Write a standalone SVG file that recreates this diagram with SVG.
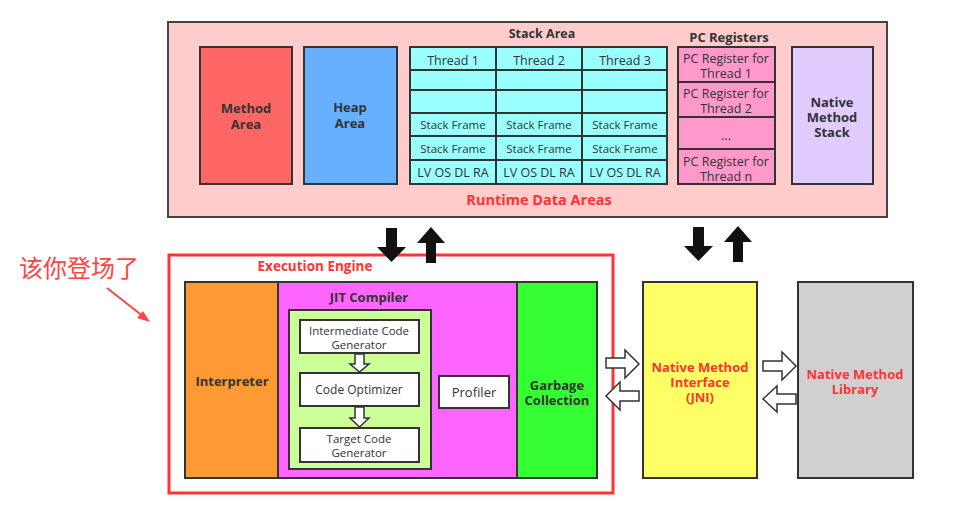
<svg xmlns="http://www.w3.org/2000/svg" width="979" height="520" viewBox="0 0 979 520">
<style>
text{font-family:"Open Sans","Noto Sans","Liberation Sans",sans-serif;fill:#333;text-anchor:middle}
.b{font-weight:bold;font-size:13px}
.r{fill:#ff3333;font-weight:bold;font-size:13px}
.box{stroke:#333;stroke-width:2}
.cell{fill:#99ffff;stroke:#333;stroke-width:2}
.pc{fill:#ff99cc;stroke:#333;stroke-width:2}
.t{font-size:12.5px}
.s{font-size:11.5px}
.w{fill:#fff;stroke:#333;stroke-width:2}
.ha{fill:#fff;stroke:#333;stroke-width:1.5}
</style>
<rect width="979" height="520" fill="#fff"/>
<g id="runtime">
<rect x="168" y="22" width="719" height="195" fill="#ffcccc" stroke="#444" stroke-width="2"/>
<text class="r" x="539" y="205" style="font-size:14.5px">Runtime Data Areas</text>
</g>
<g id="method-area">
<rect class="box" x="200" y="47" width="92" height="137" fill="#ff6666"/>
<text class="b" x="246" y="113">Method<tspan x="246" dy="16">Area</tspan></text>
</g>
<g id="heap-area">
<rect class="box" x="304" y="47" width="93" height="137" fill="#66b0ff"/>
<text class="b" x="350" y="112">Heap<tspan x="350" dy="16">Area</tspan></text>
</g>
<g id="stack-area">
<text class="b" x="542" y="38" style="font-size:12.5px">Stack Area</text>
<rect class="cell" x="410" y="47" width="86" height="23"/><rect class="cell" x="496" y="47" width="86" height="23"/><rect class="cell" x="582" y="47" width="85" height="23"/>
<rect class="cell" x="410" y="70" width="86" height="20"/><rect class="cell" x="496" y="70" width="86" height="20"/><rect class="cell" x="582" y="70" width="85" height="20"/>
<rect class="cell" x="410" y="90" width="86" height="23"/><rect class="cell" x="496" y="90" width="86" height="23"/><rect class="cell" x="582" y="90" width="85" height="23"/>
<rect class="cell" x="410" y="113" width="86" height="23"/><rect class="cell" x="496" y="113" width="86" height="23"/><rect class="cell" x="582" y="113" width="85" height="23"/>
<rect class="cell" x="410" y="136" width="86" height="24"/><rect class="cell" x="496" y="136" width="86" height="24"/><rect class="cell" x="582" y="136" width="85" height="24"/>
<rect class="cell" x="410" y="160" width="86" height="24"/><rect class="cell" x="496" y="160" width="86" height="24"/><rect class="cell" x="582" y="160" width="85" height="24"/>
<text class="t" x="453" y="65">Thread 1</text><text class="t" x="539" y="65">Thread 2</text><text class="t" x="625" y="65">Thread 3</text>
<text class="s" x="453" y="129">Stack Frame</text><text class="s" x="539" y="129">Stack Frame</text><text class="s" x="625" y="129">Stack Frame</text>
<text class="s" x="453" y="153">Stack Frame</text><text class="s" x="539" y="153">Stack Frame</text><text class="s" x="625" y="153">Stack Frame</text>
<text class="t" x="453" y="177">LV OS DL RA</text><text class="t" x="539" y="177">LV OS DL RA</text><text class="t" x="625" y="177">LV OS DL RA</text>
</g>
<g id="pc-registers">
<text class="b" x="729" y="42">PC Registers</text>
<rect class="pc" x="678" y="47" width="97" height="35"/>
<rect class="pc" x="678" y="82" width="97" height="35"/>
<rect class="pc" x="678" y="117" width="97" height="32"/>
<rect class="pc" x="678" y="149" width="97" height="35"/>
<text class="t" x="726" y="63">PC Register for<tspan x="726" dy="15">Thread 1</tspan></text>
<text class="t" x="726" y="98">PC Register for<tspan x="726" dy="15">Thread 2</tspan></text>
<text class="t" x="726" y="140">...</text>
<text class="t" x="726" y="166">PC Register for<tspan x="726" dy="15">Thread n</tspan></text>
</g>
<g id="native-method-stack">
<rect class="box" x="792" y="47" width="81" height="137" fill="#e0ccff"/>
<text class="b" x="832" y="107">Native<tspan x="832" dy="15">Method</tspan><tspan x="832" dy="15">Stack</tspan></text>
</g>
<g id="execution-engine">
<rect x="169" y="255" width="444" height="238" fill="none" stroke="#ff3333" stroke-width="3"/>
<text class="r" x="315" y="271" style="font-size:13.5px">Execution Engine</text>
</g>
<g id="interpreter">
<rect class="box" x="185" y="282" width="93" height="196" fill="#ff9933"/>
<text class="b" x="232" y="386">Interpreter</text>
</g>
<g id="jit-compiler">
<rect class="box" x="278" y="282" width="239" height="196" fill="#ff66ff"/>
<text class="b" x="369" y="302">JIT Compiler</text>
<rect class="box" x="289" y="310" width="142" height="159" fill="#ccff99"/>
</g>
<g id="intermediate-code-generator">
<rect class="w" x="300" y="320" width="119" height="33"/>
<text class="s" x="359" y="335">Intermediate Code<tspan x="359" dy="14">Generator</tspan></text>
</g>
<g id="code-optimizer">
<rect class="w" x="300" y="373" width="119" height="33"/>
<text class="s" x="359" y="394" style="font-size:12px">Code Optimizer</text>
</g>
<g id="target-code-generator">
<rect class="w" x="300" y="428" width="119" height="34"/>
<text class="s" x="359" y="443">Target Code<tspan x="359" dy="14">Generator</tspan></text>
</g>
<g id="profiler">
<rect class="w" x="439" y="376" width="70" height="32"/>
<text class="s" x="474" y="397" style="font-size:13px">Profiler</text>
</g>
<g id="garbage-collection">
<rect class="box" x="517" y="282" width="80" height="196" fill="#33ff33"/>
<text class="b" x="557" y="390">Garbage<tspan x="557" dy="15">Collection</tspan></text>
</g>
<g id="jni">
<rect class="box" x="643" y="282" width="114" height="196" fill="#ffff66"/>
<text class="r" x="700" y="372">Native Method<tspan x="700" dy="15">Interface</tspan><tspan x="700" dy="15">(JNI)</tspan></text>
</g>
<g id="native-method-library">
<rect class="box" x="798" y="282" width="115" height="196" fill="#d0d0d0"/>
<text class="r" x="855" y="379">Native Method<tspan x="855" dy="15">Library</tspan></text>
</g>
<g id="connectors">
<polygon points="386,228 397,228 397,247 406,247 391.5,262 377,247 386,247" fill="#111"/>
<polygon points="426,263 436,263 436,243 445,243 431,227 417,243 426,243" fill="#111"/>
<polygon points="693,227 704,227 704,246 713,246 698.5,261 684,246 693,246" fill="#111"/>
<polygon points="733,262 743,262 743,242 752,242 738,226 724,242 733,242" fill="#111"/>
<polygon class="ha" points="355,354 364,354 364,364 369,364 359.5,372 350,364 355,364"/>
<polygon class="ha" points="355,407 364,407 364,418 369,418 359.5,427 350,418 355,418"/>
<polygon class="ha" points="606,358 625,358 625,350 639,364 625,378 625,368 606,368"/>
<polygon class="ha" points="639,391 620,391 620,382 606,396 620,410 620,401 639,401"/>
<polygon class="ha" points="763,361 782,361 782,352 796,366 782,380 782,371 763,371"/>
<polygon class="ha" points="796,394 777,394 777,386 763,399 777,412 777,404 796,404"/>
</g>
<g id="annotation">
<text x="79" y="277" style="font-size:24px;fill:#ff4444;font-family:'Noto Sans CJK SC','Noto Sans',sans-serif;text-anchor:middle">该你登场了</text>
<line x1="107" y1="288" x2="144" y2="317" stroke="#ff4444" stroke-width="2"/>
<polygon points="150,322 137,318 143,311" fill="#ff4444"/>
</g>
</svg>
